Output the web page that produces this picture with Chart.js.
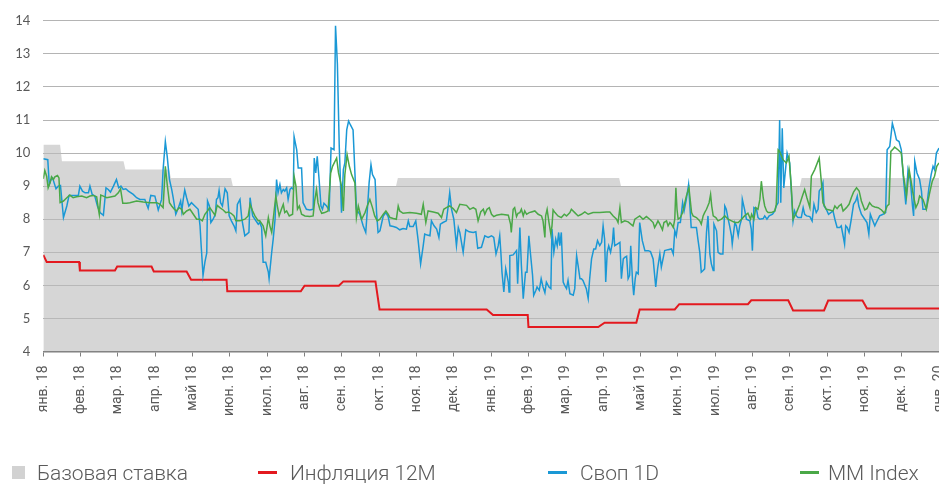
<!DOCTYPE html>
<html><head><meta charset="utf-8">
<script src="https://cdn.jsdelivr.net/npm/chart.js@4/dist/chart.umd.min.js"></script>
<style>
html,body{margin:0;padding:0;background:#fff;overflow:hidden;width:939px;height:484px}
#wrap{position:relative;width:939px;height:484px}
canvas{position:absolute;left:0;top:0}
.lg{position:absolute;top:461px;font-family:Roboto,sans-serif;font-weight:300;font-size:21px;letter-spacing:-0.1px;color:#5a5a5a;white-space:nowrap;line-height:25px}
.mk{position:absolute}
</style></head>
<body><div id="wrap"><canvas id="c" width="939" height="484"></canvas>
<div class="mk" style="left:12px;top:466px;width:13px;height:13px;background:#d2d2d2"></div>
<div class="lg" style="left:37px">Базовая ставка</div>
<div class="mk" style="left:258px;top:471px;width:19px;height:3px;background:#e3191f"></div>
<div class="lg" style="left:290px">Инфляция 12М</div>
<div class="mk" style="left:548px;top:471px;width:19px;height:3px;background:#1a98d5"></div>
<div class="lg" style="left:580px">Своп 1D</div>
<div class="mk" style="left:800px;top:471px;width:19px;height:3px;background:#4aa847"></div>
<div class="lg" style="left:828px">MM Index</div>
</div>
<script>
const monthLabels = ["янв. 18","фев. 18","мар. 18","апр. 18","май 18","июн. 18","июл. 18","авг. 18","сен. 18","окт. 18","ноя. 18","дек. 18","янв. 19","фев. 19","мар. 19","апр. 19","май 19","июн. 19","июл. 19","авг. 19","сен. 19","окт. 19","ноя. 19","дек. 19","янв. 20"];
const yTicks = [4,5,6,7,8,9,10,11,12,13,14];

// x positions are in months since Jan 2018
const baseX = [0,0.45,0.50,2.15,2.20,3.37,3.42,5.03,5.08,9.45,9.50,15.43,15.48,20.27,20.32,24];
const baseY = [10.25,10.25,9.75,9.75,9.5,9.5,9.25,9.25,9.0,9.0,9.25,9.25,9.0,9.0,9.25,9.25];

const inflX = [0,0.09,0.96,0.98,1.92,1.98,2.90,2.96,3.84,3.96,4.91,4.93,6.90,7.00,7.92,8.04,8.90,9.01,11.88,12.05,12.98,13.00,14.87,15.04,15.89,15.98,16.92,17.04,18.88,18.97,19.96,20.09,20.92,21.03,21.95,22.07,24];
const inflY = [6.92,6.71,6.71,6.45,6.45,6.57,6.57,6.42,6.42,6.17,6.17,5.82,5.82,5.99,5.99,6.12,6.12,5.27,5.27,5.10,5.10,4.74,4.74,4.87,4.87,5.27,5.27,5.43,5.43,5.55,5.55,5.24,5.24,5.54,5.54,5.30,5.30];

const swapX = [0,0.12,0.16,0.21,0.25,0.29,0.34,0.40,0.46,0.54,0.63,0.69,0.82,0.94,0.98,1.05,1.12,1.21,1.25,1.31,1.38,1.45,1.52,1.61,1.68,1.74,1.80,1.88,1.96,2.02,2.08,2.14,2.21,2.28,2.41,2.50,2.59,2.72,2.81,2.88,2.99,3.08,3.17,3.21,3.27,3.32,3.38,3.44,3.48,3.55,3.62,3.68,3.71,3.75,3.79,3.84,3.90,3.97,4.06,4.15,4.20,4.23,4.28,4.33,4.38,4.40,4.45,4.49,4.55,4.61,4.64,4.68,4.71,4.75,4.80,4.87,4.93,4.98,5.04,5.11,5.16,5.20,5.27,5.32,5.40,5.51,5.54,5.61,5.67,5.76,5.80,5.85,5.89,5.96,6.03,6.05,6.12,6.16,6.21,6.25,6.29,6.34,6.38,6.43,6.47,6.52,6.56,6.61,6.65,6.70,6.72,6.79,6.83,6.92,6.96,7.05,7.14,7.23,7.26,7.30,7.34,7.39,7.44,7.48,7.52,7.59,7.66,7.71,7.79,7.83,7.88,7.93,7.99,8.04,8.08,8.13,8.18,8.23,8.30,8.35,8.39,8.48,8.57,8.64,8.69,8.73,8.78,8.82,8.89,8.93,8.97,9.02,9.07,9.11,9.18,9.24,9.29,9.38,9.46,9.55,9.64,9.73,9.78,9.82,9.91,9.98,10.04,10.11,10.18,10.22,10.29,10.36,10.40,10.47,10.54,10.60,10.64,10.71,10.80,10.85,10.89,10.94,11.00,11.07,11.12,11.16,11.25,11.32,11.41,11.52,11.59,11.64,11.74,11.83,11.92,12.01,12.07,12.13,12.19,12.23,12.26,12.29,12.34,12.39,12.46,12.48,12.50,12.59,12.68,12.71,12.77,12.81,12.86,12.92,12.96,13.01,13.05,13.11,13.14,13.20,13.23,13.29,13.34,13.39,13.44,13.48,13.55,13.60,13.63,13.68,13.73,13.77,13.81,13.84,13.88,13.93,13.97,14.02,14.06,14.11,14.20,14.24,14.29,14.33,14.38,14.42,14.46,14.55,14.60,14.64,14.69,14.75,14.80,14.85,14.91,14.96,15.00,15.04,15.07,15.11,15.15,15.20,15.25,15.28,15.31,15.38,15.45,15.49,15.54,15.58,15.63,15.67,15.71,15.74,15.79,15.82,15.86,15.89,15.94,15.98,16.05,16.12,16.21,16.27,16.34,16.41,16.46,16.52,16.56,16.65,16.74,16.83,16.88,16.92,16.96,17.01,17.07,17.13,17.17,17.23,17.29,17.32,17.36,17.43,17.50,17.54,17.59,17.63,17.68,17.72,17.77,17.81,17.86,17.90,17.95,17.97,18.04,18.08,18.14,18.21,18.26,18.30,18.35,18.39,18.44,18.46,18.53,18.57,18.62,18.66,18.71,18.73,18.79,18.84,18.93,18.97,19.00,19.04,19.11,19.15,19.20,19.29,19.33,19.39,19.45,19.54,19.60,19.64,19.69,19.73,19.76,19.80,19.84,19.93,20.00,20.09,20.13,20.18,20.22,20.31,20.36,20.40,20.45,20.54,20.60,20.65,20.71,20.76,20.79,20.85,20.89,20.92,20.98,21.04,21.10,21.16,21.21,21.27,21.34,21.38,21.43,21.47,21.50,21.54,21.59,21.65,21.71,21.77,21.81,21.85,21.92,22.01,22.07,22.12,22.16,22.21,22.28,22.32,22.41,22.50,22.57,22.61,22.68,22.75,22.81,22.86,22.93,22.99,23.05,23.11,23.17,23.23,23.29,23.32,23.35,23.41,23.48,23.53,23.57,23.66,23.73,23.79,23.84,23.88,23.93,24.00];
const swapY = [9.83,9.80,9.05,9.20,9.25,9.10,8.92,9.00,9.02,8.05,8.40,8.72,8.72,8.72,9.00,8.85,8.80,8.80,9.00,8.75,8.70,8.40,8.20,8.12,8.95,8.90,8.82,9.00,9.20,8.95,9.00,8.90,8.92,8.85,8.75,8.65,8.60,8.60,8.33,8.72,8.70,8.28,8.60,9.50,10.35,9.90,9.20,8.90,8.65,8.15,8.35,8.55,8.25,8.60,8.88,8.65,8.40,8.50,8.40,8.30,7.80,7.20,6.30,6.70,6.98,8.55,8.40,7.90,8.00,8.15,8.60,8.65,8.87,8.50,8.40,8.92,8.80,8.10,7.95,7.80,7.65,8.45,8.60,8.00,7.50,7.60,8.65,8.10,8.00,7.85,7.90,7.75,6.70,6.70,6.40,6.20,7.00,7.40,8.00,9.20,8.80,9.05,8.80,8.90,8.85,8.95,8.60,8.90,8.95,8.90,10.50,10.10,9.55,9.55,8.50,8.30,8.28,8.30,9.85,9.40,9.90,9.20,8.40,8.30,8.48,8.40,8.28,10.15,10.10,13.85,12.70,10.20,8.20,9.50,9.70,10.70,10.97,10.85,10.70,9.40,8.30,8.15,7.80,7.60,8.40,9.10,9.65,9.35,9.20,8.20,7.60,7.65,7.90,8.10,8.20,8.08,7.80,7.78,7.75,7.68,7.72,7.70,7.95,7.78,7.78,7.95,7.40,6.65,7.20,7.55,7.52,7.50,7.95,7.80,7.70,7.45,7.85,7.90,7.95,8.40,8.80,8.30,8.00,7.20,7.75,7.60,7.00,7.68,7.62,7.60,7.62,7.12,7.15,7.50,7.45,7.50,7.45,6.95,7.20,7.50,7.00,6.40,5.80,6.50,6.10,5.80,6.90,6.92,7.05,6.05,7.75,6.60,5.60,6.40,6.40,7.50,7.00,6.30,5.70,5.85,5.95,5.85,6.20,5.95,5.78,6.10,5.95,5.90,7.70,7.00,7.40,7.20,7.60,7.20,7.60,6.10,6.00,5.90,6.15,5.75,5.70,5.90,6.90,6.60,6.20,6.20,6.15,5.90,5.60,6.20,6.80,7.10,7.10,7.35,7.20,7.30,7.80,7.40,6.10,7.00,7.20,7.00,7.30,7.75,7.20,7.25,7.30,6.20,6.80,6.85,6.88,6.20,6.30,7.20,6.10,5.70,6.20,6.40,6.35,7.90,7.35,7.05,7.05,7.02,6.80,5.95,6.50,6.95,6.55,7.05,7.08,7.10,6.95,7.65,7.50,7.90,7.90,8.50,8.25,8.60,9.05,8.50,7.75,7.75,7.75,7.40,7.00,6.40,6.45,6.50,7.60,8.10,6.95,6.65,6.45,7.85,7.65,7.00,6.95,6.95,8.40,8.30,8.00,7.80,7.50,7.25,7.90,7.80,7.50,7.80,8.00,8.60,8.30,8.00,7.95,7.70,7.05,8.35,8.30,8.05,8.00,8.02,8.10,8.00,8.10,8.15,8.25,8.40,8.50,11.00,8.50,10.75,8.95,10.00,9.70,7.95,8.25,8.10,8.05,8.05,8.35,8.15,8.10,8.08,7.95,8.45,8.20,8.30,8.85,8.95,9.10,8.40,8.30,8.15,8.20,8.25,8.00,7.75,7.75,7.80,7.50,7.25,7.80,7.75,7.60,8.00,8.45,8.55,8.70,8.40,8.15,8.00,7.90,7.55,8.15,8.00,7.80,7.90,8.10,8.15,8.20,10.10,10.20,10.90,10.65,10.40,10.35,10.10,9.20,8.45,9.50,9.20,8.40,8.10,9.75,9.40,9.20,8.85,8.30,8.30,8.95,9.35,9.60,9.50,10.00,10.15];

const mmX = [0,0.04,0.09,0.13,0.18,0.22,0.27,0.31,0.38,0.42,0.45,0.54,0.63,0.71,0.80,0.89,1.03,1.16,1.25,1.34,1.43,1.47,1.50,1.54,1.61,1.70,1.83,1.92,2.01,2.07,2.13,2.23,2.32,2.50,2.68,2.86,3.04,3.13,3.21,3.27,3.32,3.38,3.44,3.51,3.57,3.64,3.71,3.75,3.84,3.93,4.02,4.11,4.20,4.26,4.33,4.40,4.46,4.54,4.60,4.66,4.73,4.82,4.89,4.96,5.03,5.11,5.16,5.27,5.40,5.49,5.54,5.61,5.67,5.76,5.80,5.89,5.96,6.03,6.07,6.12,6.16,6.23,6.27,6.32,6.38,6.43,6.47,6.52,6.59,6.68,6.72,6.77,6.81,6.86,6.92,7.01,7.14,7.23,7.27,7.32,7.36,7.41,7.46,7.54,7.63,7.70,7.75,7.86,7.91,7.95,7.99,8.04,8.08,8.14,8.20,8.26,8.35,8.39,8.44,8.53,8.62,8.68,8.75,8.82,8.88,8.95,9.02,9.11,9.18,9.24,9.29,9.38,9.46,9.51,9.55,9.64,9.82,10.00,10.13,10.18,10.25,10.31,10.45,10.58,10.67,10.73,10.80,10.89,10.98,11.07,11.16,11.34,11.43,11.52,11.59,11.65,11.72,11.79,11.83,11.89,11.95,12.01,12.07,12.14,12.28,12.46,12.52,12.54,12.59,12.63,12.68,12.72,12.77,12.81,12.86,12.90,12.95,13.02,13.08,13.17,13.26,13.35,13.39,13.44,13.46,13.50,13.55,13.60,13.63,13.66,13.71,13.79,13.88,13.96,14.02,14.11,14.15,14.24,14.33,14.42,14.51,14.60,14.73,14.91,15.09,15.18,15.27,15.36,15.40,15.45,15.49,15.58,15.67,15.80,15.85,15.98,16.07,16.16,16.25,16.34,16.38,16.43,16.47,16.52,16.59,16.63,16.70,16.74,16.79,16.83,16.88,16.92,16.95,16.98,17.01,17.07,17.13,17.19,17.23,17.30,17.37,17.41,17.50,17.59,17.63,17.68,17.72,17.77,17.84,17.88,17.91,17.95,18.02,18.08,18.17,18.26,18.35,18.44,18.53,18.62,18.71,18.79,18.88,18.95,18.98,19.04,19.09,19.15,19.20,19.24,19.29,19.33,19.38,19.42,19.51,19.60,19.64,19.69,19.73,19.82,19.91,19.98,20.04,20.09,20.18,20.27,20.34,20.40,20.46,20.54,20.58,20.67,20.79,20.85,20.89,20.98,21.07,21.16,21.21,21.27,21.32,21.38,21.43,21.52,21.59,21.65,21.71,21.79,21.86,21.92,22.01,22.07,22.14,22.21,22.28,22.37,22.46,22.54,22.61,22.66,22.71,22.77,22.81,22.90,22.99,23.05,23.13,23.20,23.26,23.30,23.38,23.44,23.48,23.57,23.66,23.75,23.82,23.88,23.94,24.00];
const mmY = [9.22,9.47,9.30,8.95,9.10,9.28,9.20,9.28,9.32,9.25,8.50,8.55,8.65,8.73,8.65,8.68,8.70,8.65,8.70,8.72,8.68,8.35,8.15,8.73,8.70,8.65,8.68,8.70,8.80,8.92,8.48,8.48,8.50,8.55,8.52,8.50,8.50,8.45,8.35,9.60,9.05,8.50,8.40,8.30,8.25,8.35,8.30,8.15,8.25,8.30,8.15,8.00,8.00,7.95,8.15,8.25,8.35,8.22,8.12,8.42,8.35,8.28,8.20,8.22,8.18,8.10,7.95,7.95,8.00,8.10,8.45,8.25,8.10,7.95,7.95,7.80,7.50,8.05,7.80,7.60,8.00,8.70,8.40,8.10,8.30,8.45,8.20,8.25,8.10,8.15,9.30,9.00,8.30,8.40,8.15,8.10,8.08,8.10,8.55,8.90,8.50,8.30,8.18,8.20,8.25,9.40,9.60,9.85,9.40,9.20,9.00,8.25,9.35,9.95,9.60,9.35,9.10,8.05,8.40,8.00,8.20,8.40,8.60,8.35,8.10,7.95,8.00,8.15,8.25,8.15,8.05,8.02,8.00,8.40,8.25,8.18,8.20,8.18,8.15,8.45,7.90,8.25,8.22,8.18,8.05,8.30,8.35,8.40,8.32,8.20,8.45,8.42,8.30,8.35,8.30,7.95,8.22,8.30,8.15,8.30,8.35,8.15,8.08,8.12,8.15,8.12,7.85,7.60,8.30,8.35,8.08,8.18,8.20,8.30,8.10,8.25,8.15,8.20,8.22,8.25,8.15,8.10,7.95,7.45,8.10,8.30,7.90,7.55,7.80,8.28,8.20,8.10,8.05,8.15,8.10,8.20,8.30,8.20,8.10,8.15,8.22,8.15,8.20,8.20,8.22,8.22,8.10,8.00,7.90,8.35,7.90,7.95,7.92,7.80,8.00,8.10,8.00,8.08,8.00,7.90,7.75,7.85,7.95,7.85,7.68,7.90,7.95,7.80,7.90,7.85,7.75,8.00,8.95,8.30,8.00,8.05,8.20,8.50,8.70,8.95,8.20,8.10,8.05,7.95,7.85,8.10,8.20,8.30,8.50,8.75,8.40,8.10,8.05,7.95,8.00,8.10,8.00,7.95,7.90,7.90,8.00,8.10,8.18,8.00,8.15,8.00,8.35,8.30,8.60,9.15,8.65,8.40,8.25,8.20,8.20,8.25,8.45,10.10,10.05,9.80,9.70,9.90,9.00,8.00,8.20,8.45,8.70,8.90,8.65,8.35,9.30,9.50,9.85,9.10,8.50,8.30,8.28,8.25,8.40,8.32,8.40,8.45,8.25,8.35,8.45,8.65,8.82,8.95,8.85,8.55,8.28,8.32,8.50,8.40,8.37,8.35,8.28,8.18,8.40,8.45,10.05,10.12,10.18,10.10,10.00,9.30,8.70,9.50,9.10,8.80,8.35,8.50,8.70,8.60,8.30,8.80,9.15,9.30,9.60,9.70];

const pts = (xs, ys) => xs.map((x, i) => ({x: x, y: ys[i]}));

new Chart(document.getElementById('c'), {
  type: 'line',
  data: {
    datasets: [
      {label: 'MM Index', data: pts(mmX, mmY), borderColor: '#4aa847', borderWidth: 1.5, pointRadius: 0, fill: false, order: 1},
      {label: 'Своп 1D', data: pts(swapX, swapY), borderColor: '#1a98d5', borderWidth: 1.5, pointRadius: 0, fill: false, order: 2},
      {label: 'Инфляция 12М', data: pts(inflX, inflY), borderColor: '#e3191f', borderWidth: 2, pointRadius: 0, fill: false, order: 3},
      {label: 'Базовая ставка', data: pts(baseX, baseY), borderWidth: 0, borderColor: 'rgba(0,0,0,0)', backgroundColor: 'rgba(187,187,187,0.6)', pointRadius: 0, fill: 'start', order: 4}
    ]
  },
  options: {
    responsive: false,
    animation: false,
    layout: {padding: {top: 18.3, left: 0, right: 0, bottom: 0}},
    plugins: {legend: {display: false}, tooltip: {enabled: false}},
    elements: {line: {tension: 0}},
    scales: {
      x: {
        type: 'linear', min: 0, max: 24,
        afterBuildTicks: s => { s.ticks = monthLabels.map((_, i) => ({value: i})); },
        afterFit: s => { s.height = 132.5; s.paddingLeft = 0; s.paddingRight = 0; },
        ticks: {autoSkip: false, minRotation: 90, maxRotation: 90, padding: 9, color: '#595959',
                font: {family: 'Roboto', size: 14}, callback: v => monthLabels[v]},
        grid: {drawOnChartArea: false, drawTicks: true, tickLength: 5, color: '#7f7f7f', lineWidth: 1},
        border: {display: true, color: '#7f7f7f', width: 1.5}
      },
      y: {
        min: 4, max: 14,
        afterBuildTicks: s => { s.ticks = yTicks.map(v => ({value: v})); },
        afterFit: s => { s.width = 43.3; },
        ticks: {color: '#595959', font: {family: 'Lato', size: 13}, padding: 13},
        grid: {color: '#b4b4b4', lineWidth: 1, drawTicks: false},
        border: {display: false}
      }
    }
  }
});
</script></body></html>
